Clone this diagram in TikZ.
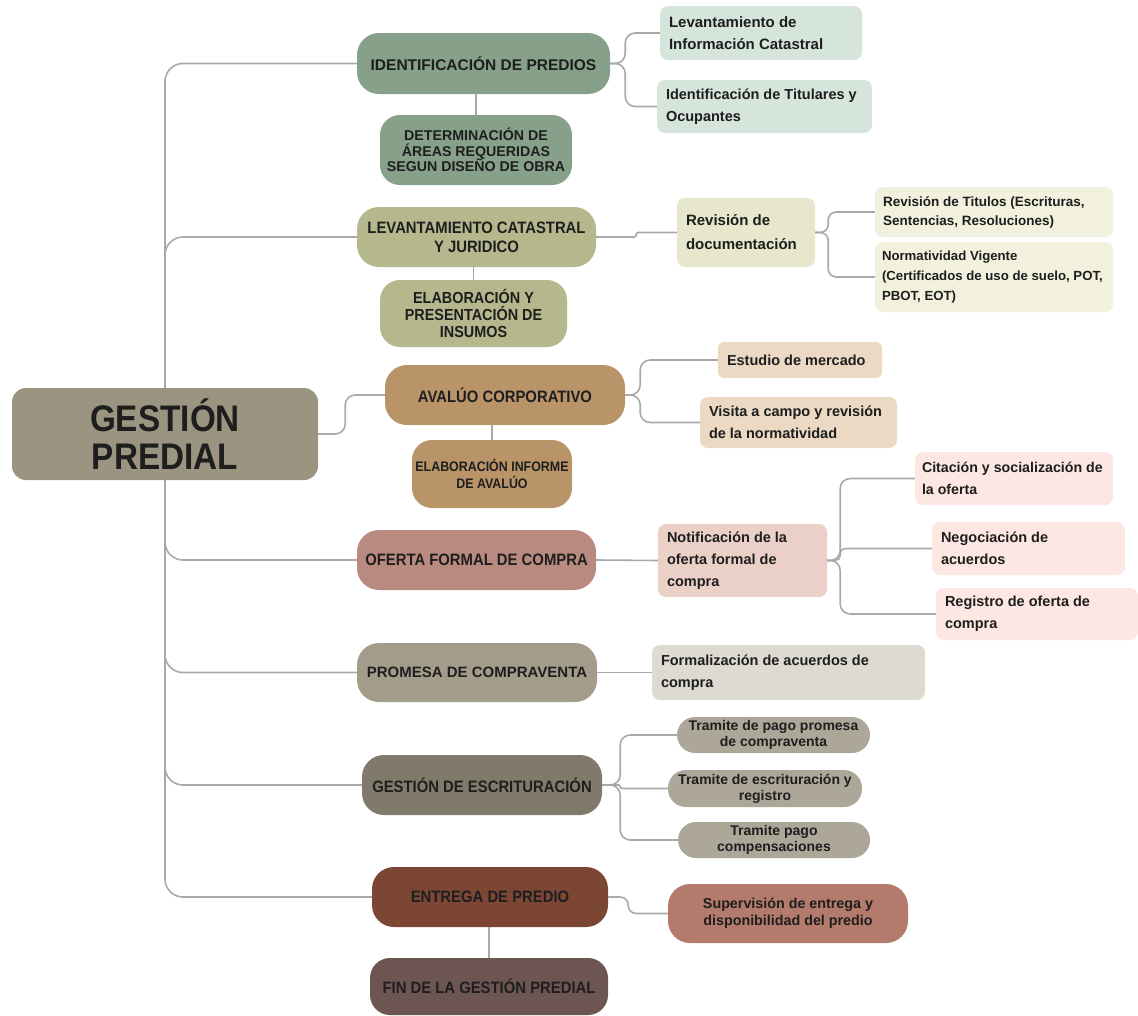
\documentclass[tikz,border=0pt]{standalone}
\usepackage{fontspec}
\usetikzlibrary{calc}
\setmainfont{Liberation Sans}
\newfontfamily\nf{Liberation Sans}
\newfontfamily\cf[FakeStretch=0.9]{Liberation Sans}
\newcommand\nfb[2]{\nf\bfseries\fontsize{#1}{#2}\selectfont}
\newcommand\cfb[2]{\cf\bfseries\fontsize{#1}{#2}\selectfont}
\definecolor{lc}{HTML}{A9A9A9}
\definecolor{tx}{HTML}{1E1E1E}
\definecolor{gmain}{HTML}{9B9481}
\definecolor{sage}{HTML}{86A08A}
\definecolor{sagel}{HTML}{D6E5DC}
\definecolor{olive}{HTML}{B5B78C}
\definecolor{olivel}{HTML}{E6E7CC}
\definecolor{olivell}{HTML}{F1F1DE}
\definecolor{tan}{HTML}{B99469}
\definecolor{tanl}{HTML}{ECD9C4}
\definecolor{rose}{HTML}{B98A80}
\definecolor{rosel}{HTML}{EBD0C8}
\definecolor{rosell}{HTML}{FDE7E2}
\definecolor{prom}{HTML}{A39C8A}
\definecolor{proml}{HTML}{DDDAD2}
\definecolor{escr}{HTML}{7F7A69}
\definecolor{escrl}{HTML}{ACA798}
\definecolor{entr}{HTML}{7C4634}
\definecolor{entrl}{HTML}{B47B6C}
\definecolor{fin}{HTML}{6D5652}
\begin{document}
\begin{tikzpicture}[x=1pt,y=-1pt,
  conn/.style={draw=lc, line width=1.6pt, rounded corners=10pt},
  box/.style={rectangle, inner sep=0pt, text=tx},
  bigbox/.style={box, rounded corners=22pt, align=center},
  leftbox/.style={box, rounded corners=8pt, align=flush left, inner xsep=9pt, font=\nfb{14.5}{22}},
  pill/.style={box, rounded corners=18pt, align=center}]
\useasboundingbox (0,0) rectangle (1138,1015);
% main
\node[box, rounded corners=14pt, align=center, fill=gmain, minimum width=306pt, minimum height=92pt, font=\cfb{37}{38}] (g) at (165,434) {GESTIÓN\\PREDIAL};
% level 1
\node[bigbox, fill=sage, minimum width=253pt, minimum height=61pt, font=\nfb{15.5}{18}] (ident) at (483.5,63.5) {IDENTIFICACIÓN DE PREDIOS};
\node[bigbox, rounded corners=20pt, fill=sage, minimum width=192pt, minimum height=70pt, font=\nfb{14.2}{15.7}] (det) at (476,150) {DETERMINACIÓN DE\\ÁREAS REQUERIDAS\\SEGUN DISEÑO DE OBRA};
\node[leftbox, fill=sagel, text width=184pt, minimum height=54pt, font=\nfb{15}{22}] (levinf) at (761,33) {Levantamiento de\\Información Catastral};
\node[leftbox, fill=sagel, text width=197pt, minimum height=53pt] (idtit) at (764.5,106.5) {Identificación de Titulares y\\Ocupantes};
\node[bigbox, fill=olive, minimum width=239pt, minimum height=60pt, font=\cfb{16.5}{19}] (lev) at (476.5,237) {LEVANTAMIENTO CATASTRAL\\Y JURIDICO};
\node[bigbox, rounded corners=20pt, fill=olive, minimum width=187pt, minimum height=67pt, font=\cfb{16}{17}] (elab1) at (473.5,313.5) {ELABORACIÓN Y\\PRESENTACIÓN DE\\INSUMOS};
\node[leftbox, fill=olivel, text width=120pt, minimum height=69pt, font=\nfb{15}{24}] (revdoc) at (746,232.5) {Revisión de\\documentación};
\node[leftbox, fill=olivell, text width=222pt, minimum height=50pt, inner xsep=8pt, font=\nfb{13.5}{19}] (revtit) at (994,212) {Revisión de Titulos (Escrituras,\\Sentencias, Resoluciones)};
\node[leftbox, fill=olivell, text width=224pt, minimum height=70pt, inner xsep=7pt, font=\nfb{13.2}{20}] (norm) at (994,277) {Normatividad Vigente\\(Certificados de uso de suelo, POT,\\PBOT, EOT)};
\node[bigbox, fill=tan, minimum width=240pt, minimum height=60pt, font=\cfb{16.5}{19}] (ava) at (505,395) {AVALÚO CORPORATIVO};
\node[bigbox, rounded corners=20pt, fill=tan, minimum width=160pt, minimum height=68pt, font=\cfb{13.8}{17}] (elab2) at (492,474) {ELABORACIÓN INFORME\\DE AVALÚO};
\node[leftbox, rounded corners=6pt, fill=tanl, text width=146pt, minimum height=36pt] (est) at (800,360) {Estudio de mercado};
\node[leftbox, fill=tanl, text width=179pt, minimum height=51pt] (vis) at (798.5,422.5) {Visita a campo y revisión\\de la normatividad};
\node[bigbox, fill=rose, minimum width=239pt, minimum height=60pt, font=\cfb{16.5}{19}] (of) at (476.5,560) {OFERTA FORMAL DE COMPRA};
\node[leftbox, fill=rosel, text width=151pt, minimum height=73pt] (notif) at (742.5,560.5) {Notificación de la\\oferta formal de\\compra};
\node[leftbox, fill=rosell, text width=184pt, minimum height=53pt, inner xsep=7pt, font=\nfb{14.2}{22}] (cit) at (1014,478.5) {Citación y socialización de\\la oferta};
\node[leftbox, fill=rosell, text width=175pt, minimum height=53pt] (neg) at (1028.5,548.5) {Negociación de\\acuerdos};
\node[leftbox, fill=rosell, text width=184pt, minimum height=52pt] (reg) at (1037,614) {Registro de oferta de\\compra};
\node[bigbox, fill=prom, minimum width=240pt, minimum height=59pt, font=\nfb{15}{18}] (prom) at (477,672.5) {PROMESA DE COMPRAVENTA};
\node[leftbox, fill=proml, text width=255pt, minimum height=55pt] (form) at (788.5,672.5) {Formalización de acuerdos de\\compra};
\node[bigbox, fill=escr, minimum width=240pt, minimum height=60pt, font=\cfb{16.5}{19}] (ge) at (482,785) {GESTIÓN DE ESCRITURACIÓN};
\node[pill, fill=escrl, minimum width=193pt, minimum height=36pt, font=\nfb{14}{16}] (t1) at (773.5,735) {Tramite de pago promesa\\de compraventa};
\node[pill, fill=escrl, minimum width=194pt, minimum height=37pt, font=\nfb{14}{16}] (t2) at (765,788.5) {Tramite de escrituración y\\registro};
\node[pill, fill=escrl, minimum width=192pt, minimum height=36pt, font=\nfb{14}{16}] (t3) at (774,840) {Tramite pago\\compensaciones};
\node[bigbox, fill=entr, minimum width=236pt, minimum height=60pt, font=\cfb{16.5}{19}] (ent) at (490,897) {ENTREGA DE PREDIO};
\node[bigbox, fill=entrl, minimum width=240pt, minimum height=59pt, font=\nfb{14.3}{17}] (sup) at (788,913.5) {Supervisión de entrega y\\disponibilidad del predio};
\node[bigbox, rounded corners=20pt, fill=fin, minimum width=238pt, minimum height=57pt, font=\cfb{16.5}{19}] (fin) at (489,986.5) {FIN DE LA GESTIÓN PREDIAL};
% fork coordinates
\coordinate (fid) at ($(ident.east)+(15,0)$);
\coordinate (flev) at ($(lev.east)+(40,0)$);
\coordinate (frev) at ($(revdoc.east)+(13,0)$);
\coordinate (fava) at ($(ava.east)+(15,0)$);
\coordinate (fnot) at ($(notif.east)+(13,0)$);
\coordinate (fge) at ($(ge.east)+(18,0)$);
\coordinate (fent) at ($(ent.east)+(20,0)$);
\coordinate (fg) at ($(g.east)+(27,0)$);
% trunk
\draw[conn, rounded corners=18pt] (g.north) |- (ident.west);
\draw[conn, rounded corners=18pt] (g.north) |- (lev.west);
\draw[conn, rounded corners=18pt] (g.south) |- (of.west);
\draw[conn, rounded corners=18pt] (g.south) |- (prom.west);
\draw[conn, rounded corners=18pt] (g.south) |- (ge.west);
\draw[conn, rounded corners=18pt] (g.south) |- (ent.west);
\draw[conn] (g.east) -- (fg) |- (ava.west);
% vertical sub-links
\draw[conn] (det.north) -- (det.north |- ident.south);
\draw[conn] (elab1.north) -- (elab1.north |- lev.south);
\draw[conn] (elab2.north) -- (elab2.north |- ava.south);
\draw[conn] (fin.north) -- (fin.north |- ent.south);
% branches
\draw[conn] (ident.east) -- (fid) |- (levinf.west);
\draw[conn] (ident.east) -- (fid) |- (idtit.west);
\draw[conn, rounded corners=2pt] (lev.east) -- (flev) |- (revdoc.west);
\draw[conn, rounded corners=8pt] (revdoc.east) -- (frev) |- (revtit.west);
\draw[conn, rounded corners=8pt] (revdoc.east) -- (frev) |- (norm.west);
\draw[conn] (ava.east) -- (fava) |- (est.west);
\draw[conn] (ava.east) -- (fava) |- (vis.west);
\draw[conn] (of.east) -- (notif.west);
\draw[conn] (notif.east) -- (fnot) |- (cit.west);
\draw[conn, rounded corners=5pt] (notif.east) -- (fnot) |- (neg.west);
\draw[conn] (notif.east) -- (fnot) |- (reg.west);
\draw[conn] (prom.east) -- (form.west);
\draw[conn] (ge.east) -- (fge) |- (t1.west);
\draw[conn, rounded corners=1.5pt] (ge.east) -- (fge) |- (t2.west);
\draw[conn] (ge.east) -- (fge) |- (t3.west);
\draw[conn, rounded corners=8pt] (ent.east) -- (fent) |- (sup.west);
\end{tikzpicture}
\end{document}
